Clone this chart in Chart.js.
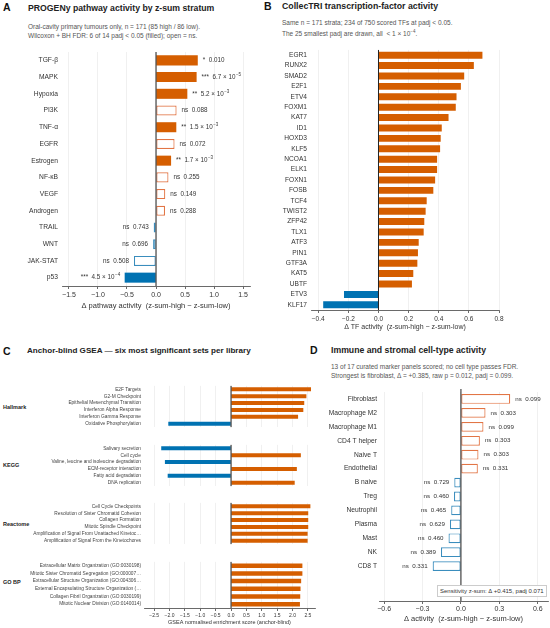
<!DOCTYPE html>
<html>
<head>
<meta charset="utf-8">
<script src="https://cdn.jsdelivr.net/npm/chart.js@4.4.1/dist/chart.umd.min.js"></script>
<style>
  body { margin: 0; background: #fff; font-family: "Liberation Sans", Arial, sans-serif; }
  #page { position: relative; width: 550px; height: 628px; overflow: hidden; }
  #page div { position: absolute; white-space: nowrap; }
  canvas { position: absolute; }
  .letter { font-weight: bold; font-size: 10.5px; line-height: 11px; color: #111; }
  .title { font-weight: bold; line-height: 10px; color: #222; }
  .sub { font-size: 6.5px; line-height: 9px; color: #555; }
  .group { font-weight: bold; font-size: 5.5px; line-height: 6px; color: #222; }
  .note { font-size: 6px; line-height: 10px; color: #333; background: #fff; border: 0.8px solid #ccc; padding: 0 2px; }
</style>
</head>
<body>
<div id="page">
  <div class="letter" style="left:3px;top:2px">A</div>
  <div class="title" style="left:28px;top:2.5px;font-size:8.7px">PROGENy pathway activity by z-sum stratum</div>
  <div class="sub" style="left:28px;top:21.5px">Oral-cavity primary tumours only, n = 171 (85 high / 86 low).<br>Wilcoxon + BH FDR: 6 of 14 padj &lt; 0.05 (filled); open = ns.</div>

  <div class="letter" style="left:264px;top:1px">B</div>
  <div class="title" style="left:282px;top:1px;font-size:8.75px">CollecTRI transcription-factor activity</div>
  <div class="sub" style="left:282px;top:18.2px">Same n = 171 strata; 234 of 750 scored TFs at padj &lt; 0.05.<br>The 25 smallest padj are drawn, all &nbsp;&lt; 1 × 10<sup style="font-size:4.5px">−4</sup>.</div>

  <div class="letter" style="left:3px;top:345.5px">C</div>
  <div class="title" style="left:27px;top:346px;font-size:8.1px">Anchor-blind GSEA — six most significant sets per library</div>
  <div class="group" style="left:3px;top:403.5px">Hallmark</div>
  <div class="group" style="left:3px;top:462px">KEGG</div>
  <div class="group" style="left:3px;top:520.5px">Reactome</div>
  <div class="group" style="left:3px;top:579px">GO BP</div>

  <div class="letter" style="left:310px;top:345px">D</div>
  <div class="title" style="left:331px;top:345px;font-size:8.7px">Immune and stromal cell-type activity</div>
  <div class="sub" style="left:331px;top:361.5px">13 of 17 curated marker panels scored; no cell type passes FDR.<br>Strongest is fibroblast, Δ = +0.385, raw p = 0.012, padj = 0.099.</div>

  <canvas id="chartA" width="275" height="272" style="left:0;top:44px"></canvas>
  <canvas id="chartB" width="275" height="290" style="left:275px;top:42px"></canvas>
  <canvas id="chartC1" width="320" height="53" style="left:0;top:380px"></canvas>
  <canvas id="chartC2" width="320" height="53" style="left:0;top:438.5px"></canvas>
  <canvas id="chartC3" width="320" height="53" style="left:0;top:497px"></canvas>
  <canvas id="chartC4" width="320" height="72" style="left:0;top:555.5px"></canvas>
  <canvas id="chartD" width="275" height="244" style="left:275px;top:384px"></canvas>

  <div class="note" style="left:437px;top:585px;z-index:2">Sensitivity z-sum: Δ +0.415, padj 0.071</div>
</div>

<script>
// ---- data ----
var pathwayNames = ['TGF-β', 'MAPK', 'Hypoxia', 'PI3K', 'TNF-α', 'EGFR', 'Estrogen', 'NF-κB', 'VEGF', 'Androgen', 'TRAIL', 'WNT', 'JAK-STAT', 'p53'];
var pathwayDelta = [0.72, 0.70, 0.54, 0.355, 0.35, 0.32, 0.26, 0.215, 0.16, 0.155, -0.04, -0.05, -0.38, -0.54];
var pathwayStars = ['*', '***', '**', 'ns', '**', 'ns', '**', 'ns', 'ns', 'ns', 'ns', 'ns', 'ns', '***'];
var pathwayPadj = ['0.010', '6.7 × 10^−5', '5.2 × 10^−3', '0.088', '1.5 × 10^−3', '0.072', '1.7 × 10^−3', '0.255', '0.149', '0.288', '0.743', '0.696', '0.508', '4.5 × 10^−4'];

var tfNames = ['EGR1', 'RUNX2', 'SMAD2', 'E2F1', 'ETV4', 'FOXM1', 'KAT7', 'ID1', 'HOXD3', 'KLF5', 'NCOA1', 'ELK1', 'FOXN1', 'FOSB', 'TCF4', 'TWIST2', 'ZFP42', 'TLX1', 'ATF3', 'PIN1', 'GTF3A', 'KAT5', 'UBTF', 'ETV3', 'KLF17'];
var tfDelta = [0.69, 0.633, 0.569, 0.547, 0.518, 0.513, 0.465, 0.42, 0.413, 0.409, 0.389, 0.389, 0.376, 0.364, 0.32, 0.313, 0.304, 0.30, 0.267, 0.262, 0.258, 0.231, 0.222, -0.229, -0.367];

var hallmarkSets = ['E2F Targets', 'G2-M Checkpoint', 'Epithelial Mesenchymal Transition', 'Interferon Alpha Response', 'Interferon Gamma Response', 'Oxidative Phosphorylation'];
var hallmarkNES = [2.60, 2.45, 2.38, 2.35, 2.18, -2.04];
var keggSets = ['Salivary secretion', 'Cell cycle', 'Valine, leucine and isoleucine degradation', 'ECM-receptor interaction', 'Fatty acid degradation', 'DNA replication'];
var keggNES = [-2.27, 2.27, -2.15, 2.14, -2.06, 2.07];
var reactomeSets = ['Cell Cycle Checkpoints', 'Resolution of Sister Chromatid Cohesion', 'Collagen Formation', 'Mitotic Spindle Checkpoint', 'Amplification of Signal From Unattached Kinetoc…', 'Amplification of Signal From the Kinetochores'];
var reactomeNES = [2.58, 2.51, 2.51, 2.51, 2.49, 2.49];
var gobpSets = ['Extracellular Matrix Organization (GO:0030198)', 'Mitotic Sister Chromatid Segregation (GO:000007…', 'Extracellular Structure Organization (GO:004306…', 'External Encapsulating Structure Organization (…', 'Collagen Fibril Organization (GO:0030199)', 'Mitotic Nuclear Division (GO:0140014)'];
var gobpNES = [2.32, 2.32, 2.28, 2.26, 2.25, 2.24];

var cellTypes = ['Fibroblast', 'Macrophage M2', 'Macrophage M1', 'CD4 T helper', 'Naive T', 'Endothelial', 'B naive', 'Treg', 'Neutrophil', 'Plasma', 'Mast', 'NK', 'CD8 T'];
var cellDelta = [0.385, 0.192, 0.176, 0.148, 0.137, 0.132, -0.052, -0.054, -0.076, -0.086, -0.097, -0.156, -0.221];
var cellPadj = ['0.099', '0.303', '0.099', '0.303', '0.303', '0.331', '0.729', '0.460', '0.465', '0.629', '0.460', '0.389', '0.331'];

var UP = '#d55e00', DOWN = '#0072b2';
var UP_OPEN = '#e27545', DOWN_OPEN = '#3a8dbd';
var FONT = '"Liberation Sans", Arial, sans-serif';

Chart.defaults.font.family = FONT;
Chart.defaults.color = '#333';

function fmt(d) {
  return function (v) {
    var s = Math.abs(v).toFixed(d);
    return (v < -1e-9 ? '−' : '') + s;
  };
}

// dark vertical line at x = 0
var zeroLine = {
  id: 'zeroLine',
  afterDatasetsDraw: function (chart, args, opts) {
    var a = chart.chartArea, x = chart.scales.x.getPixelForValue(0);
    var ctx = chart.ctx;
    ctx.save();
    ctx.strokeStyle = '#222';
    ctx.lineWidth = 1;
    ctx.beginPath();
    ctx.moveTo(x, a.top - (opts.ext || 0));
    ctx.lineTo(x, a.bottom);
    ctx.stroke();
    ctx.restore();
  }
};

function drawNote(ctx, x, y, stars, padj, alignRight, size) {
  var big = size + 'px ' + FONT;
  var small = (size * 0.72).toFixed(1) + 'px ' + FONT;
  var parts = padj.split('^');
  var head = stars + '  ' + parts[0];
  ctx.font = big;
  var w1 = ctx.measureText(head).width, w2 = 0;
  if (parts.length > 1) {
    ctx.font = small;
    w2 = ctx.measureText(parts[1]).width;
  }
  var x0 = alignRight ? x - w1 - w2 : x;
  ctx.font = big;
  ctx.fillText(head, x0, y);
  if (parts.length > 1) {
    ctx.font = small;
    ctx.fillText(parts[1], x0 + w1 + 0.5, y - size * 0.4);
  }
}

// star + padj labels next to each bar
var pLabels = {
  id: 'pLabels',
  afterDatasetsDraw: function (chart, args, opts) {
    if (!opts.padj) return;
    var ctx = chart.ctx, vals = chart.data.datasets[0].data;
    ctx.save();
    ctx.fillStyle = '#333';
    ctx.textBaseline = 'middle';
    ctx.textAlign = 'left';
    chart.getDatasetMeta(0).data.forEach(function (bar, i) {
      var neg = vals[i] < 0;
      drawNote(ctx, neg ? bar.x - opts.gap : bar.x + opts.gap, bar.y, opts.stars[i], opts.padj[i], neg, opts.size);
    });
    ctx.restore();
  }
};

function hbar(id, o) {
  return new Chart(document.getElementById(id), {
    type: 'bar',
    data: {
      labels: o.labels,
      datasets: [{
        data: o.values,
        backgroundColor: o.fill,
        borderColor: o.border,
        borderWidth: o.borderWidth || 0,
        borderSkipped: false,
        barPercentage: o.barPct,
        categoryPercentage: 1
      }]
    },
    options: {
      indexAxis: 'y',
      responsive: false,
      animation: false,
      events: [],
      layout: { autoPadding: false, padding: o.pad },
      plugins: {
        legend: { display: false },
        tooltip: { enabled: false },
        zeroLine: { ext: o.zeroExt || 0 },
        pLabels: o.notes || {}
      },
      scales: {
        x: {
          min: o.min, max: o.max,
          afterFit: function (s) { s.height = o.xh; },
          ticks: {
            display: o.xTicks !== false,
            stepSize: o.step, includeBounds: false,
            callback: fmt(1),
            font: { size: o.tickSize }, color: '#333',
            padding: o.tickPad, maxRotation: 0
          },
          grid: {
            color: '#e9e9e9', lineWidth: 0.7,
            drawTicks: o.xTicks !== false, tickLength: 3, tickColor: '#444', tickWidth: 0.8
          },
          border: { display: o.xTicks !== false, color: '#444', width: 0.8 },
          title: {
            display: !!o.xTitle, text: o.xTitle,
            font: { size: o.titleSize }, color: '#333',
            padding: { top: 0, bottom: o.titlePad }
          }
        },
        y: {
          afterFit: function (s) { s.width = o.yw; },
          ticks: { autoSkip: false, font: { size: o.labelSize }, color: o.labelColor || '#333', padding: o.labelPad },
          grid: { display: false, drawTicks: false },
          border: { display: false }
        }
      }
    },
    plugins: [zeroLine, pLabels]
  });
}

function fills(vals, filled) {
  return vals.map(function (v, i) {
    if (filled && !filled[i]) return '#fff';
    return v < 0 ? DOWN : UP;
  });
}
function borders(vals) {
  return vals.map(function (v) { return v < 0 ? DOWN_OPEN : UP_OPEN; });
}

// ---- A: PROGENy ----
var pathwayFilled = pathwayStars.map(function (s) { return s !== 'ns'; });
hbar('chartA', {
  labels: pathwayNames, values: pathwayDelta,
  fill: fills(pathwayDelta, pathwayFilled),
  border: borders(pathwayDelta),
  borderWidth: pathwayFilled.map(function (f) { return f ? 0 : 1.2; }),
  barPct: 0.6,
  min: -1.62, max: 1.62, step: 0.5,
  pad: { top: 6, right: 25, left: 0, bottom: 0 },
  yw: 62, xh: 30,
  tickSize: 7, tickPad: 2,
  xTitle: 'Δ pathway activity  (z-sum-high − z-sum-low)', titleSize: 7.5, titlePad: 5.5,
  labelSize: 6.7, labelPad: 4,
  notes: { stars: pathwayStars, padj: pathwayPadj, gap: 5, size: 6.3 }
});

// ---- B: CollecTRI ----
hbar('chartB', {
  labels: tfNames, values: tfDelta,
  fill: fills(tfDelta), border: borders(tfDelta),
  barPct: 0.67,
  min: -0.448, max: 0.8, step: 0.2,
  pad: { top: 5.5, right: 51, left: 0, bottom: 0 },
  yw: 36, xh: 22,
  tickSize: 6.5, tickPad: 2,
  xTitle: 'Δ TF activity  (z-sum-high − z-sum-low)', titleSize: 7, titlePad: 1,
  labelSize: 6.6, labelPad: 4
});

// ---- C: GSEA, one strip per library ----
var gseaLibs = [
  ['chartC1', hallmarkSets, hallmarkNES],
  ['chartC2', keggSets, keggNES],
  ['chartC3', reactomeSets, reactomeNES],
  ['chartC4', gobpSets, gobpNES]
];
gseaLibs.forEach(function (lib, k) {
  var last = k === gseaLibs.length - 1;
  hbar(lib[0], {
    labels: lib[1], values: lib[2],
    fill: fills(lib[2]), border: borders(lib[2]),
    barPct: 0.58,
    min: -2.83, max: 2.73, step: 0.5,
    pad: { top: 1, right: 5, left: 0, bottom: last ? 0 : 1 },
    yw: 144, xh: last ? 20 : 0,
    xTicks: last,
    tickSize: 5, tickPad: 2,
    xTitle: last ? 'GSEA normalised enrichment score (anchor-blind)' : '', titleSize: 5.5, titlePad: 2,
    labelSize: 4.8, labelPad: 3, labelColor: '#444'
  });
});

// ---- D: cell types ----
var cellFilled = cellDelta.map(function () { return false; });
hbar('chartD', {
  labels: cellTypes.concat(['', '']), values: cellDelta,
  fill: fills(cellDelta, cellFilled),
  border: borders(cellDelta),
  borderWidth: 1.2,
  barPct: 0.7,
  min: -0.64, max: 0.68, step: 0.3,
  pad: { top: 8, right: 2, left: 0, bottom: 0 },
  yw: 104, xh: 27, zeroExt: 3,
  tickSize: 7, tickPad: 1,
  xTitle: 'Δ activity  (z-sum-high − z-sum-low)', titleSize: 7.5, titlePad: 4.5,
  labelSize: 6.7, labelPad: 2,
  notes: { stars: cellFilled.map(function () { return 'ns'; }), padj: cellPadj, gap: 5, size: 6.2 }
});
</script>
</body>
</html>
